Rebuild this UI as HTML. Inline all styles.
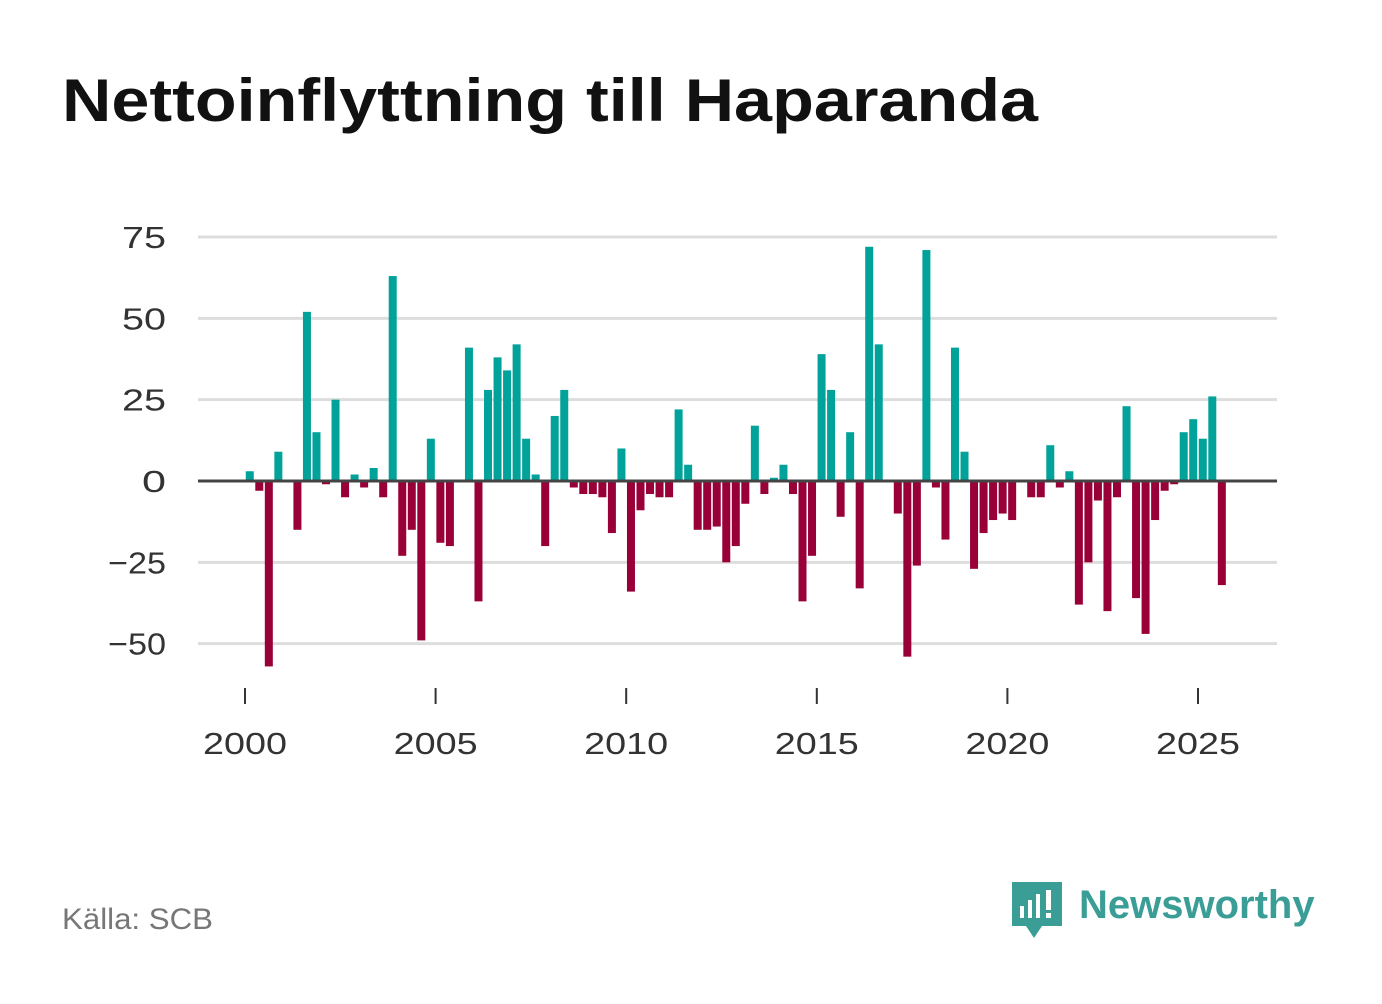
<!DOCTYPE html>
<html><head><meta charset="utf-8"><style>
body{margin:0;background:#fff;width:1382px;height:999px;overflow:hidden;font-family:"Liberation Sans",sans-serif}
</style></head><body>
<svg width="1382" height="999">
<text x="62" y="121" font-size="60" font-weight="bold" fill="#111" textLength="976" lengthAdjust="spacingAndGlyphs">Nettoinflyttning till Haparanda</text>
<g id="grid"></g><g id="bars"></g><g id="axes"></g>
<text x="62" y="929" font-size="30" fill="#777" textLength="151" lengthAdjust="spacingAndGlyphs">Källa: SCB</text>
<g>
<path d="M1012 882h50v44h-20l-8 12-8-12h-14z" fill="#3a9e96"/>
<rect x="1020" y="906" width="4" height="12" fill="#fff"/><rect x="1028" y="900" width="4" height="18" fill="#fff"/><rect x="1036" y="894" width="4" height="24" fill="#fff"/><rect x="1046" y="890" width="5" height="20" fill="#fff"/><rect x="1046" y="913" width="5" height="5" fill="#fff"/>
<text x="1079" y="918" font-size="40" font-weight="bold" fill="#3a9e96">Newsworthy</text>
</g>
</svg>
<script>
const values=[3,-3,-57,9,0,-15,52,15,-1,25,-5,2,-2,4,-5,63,-23,-15,-49,13,-19,-20,0,41,-37,28,38,34,42,13,2,-20,20,28,-2,-4,-4,-5,-16,10,-34,-9,-4,-5,-5,22,5,-15,-15,-14,-25,-20,-7,17,-4,1,5,-4,-37,-23,39,28,-11,15,-33,72,42,0,-10,-54,-26,71,-2,-18,41,9,-27,-16,-12,-10,-12,0,-5,-5,11,-2,3,-38,-25,-6,-40,-5,23,-36,-47,-12,-3,-1,15,19,13,26,-32];
const startYear=2000;
const yTicks=[-50,-25,0,25,50,75];
const xTicks=[2000,2005,2010,2015,2020,2025];
const NS="http://www.w3.org/2000/svg";
const y=v=>481-v*3.253;
const x=t=>245+(t-2000)*38.12;
function mk(tag,attrs,parent){const e=document.createElementNS(NS,tag);for(const k in attrs)e.setAttribute(k,attrs[k]);document.getElementById(parent).appendChild(e);return e;}
yTicks.forEach(t=>{
 if(t!==0){const l=mk('line',{x1:198,x2:1277,y1:y(t),y2:y(t),stroke:'#ddd','stroke-width':3},'grid');
 
 }
 const s=t<0?'\u2212'+(-t):String(t);
 const tx=mk('text',{x:166,y:y(t)+11,'font-size':31,fill:'#333','text-anchor':'end',textLength:s.length*20+(t<0?-2:4),lengthAdjust:'spacingAndGlyphs'},'axes');
 tx.textContent=s;
 
 
});
values.forEach((v,i)=>{
 const cx=x(startYear+(i+0.5)/4);
 const r=mk('rect',{x:cx-4,y:Math.min(y(v),y(0)),width:8,height:Math.abs(y(v)-y(0)),fill:v>=0?'#00a29a':'#9a0038'},'bars');
 
 
});
const z=mk('line',{x1:198,x2:1277,y1:481,y2:481,stroke:'#444','stroke-width':3},'axes');


xTicks.forEach(t=>{
 const l=mk('line',{x1:x(t),x2:x(t),y1:688,y2:704,stroke:'#333','stroke-width':2},'axes');
 
 
 const tx=mk('text',{x:x(t),y:754,'font-size':31,fill:'#333','text-anchor':'middle',textLength:84,lengthAdjust:'spacingAndGlyphs'},'axes');
 tx.textContent=t;
 
 
});
</script>
</body></html>
